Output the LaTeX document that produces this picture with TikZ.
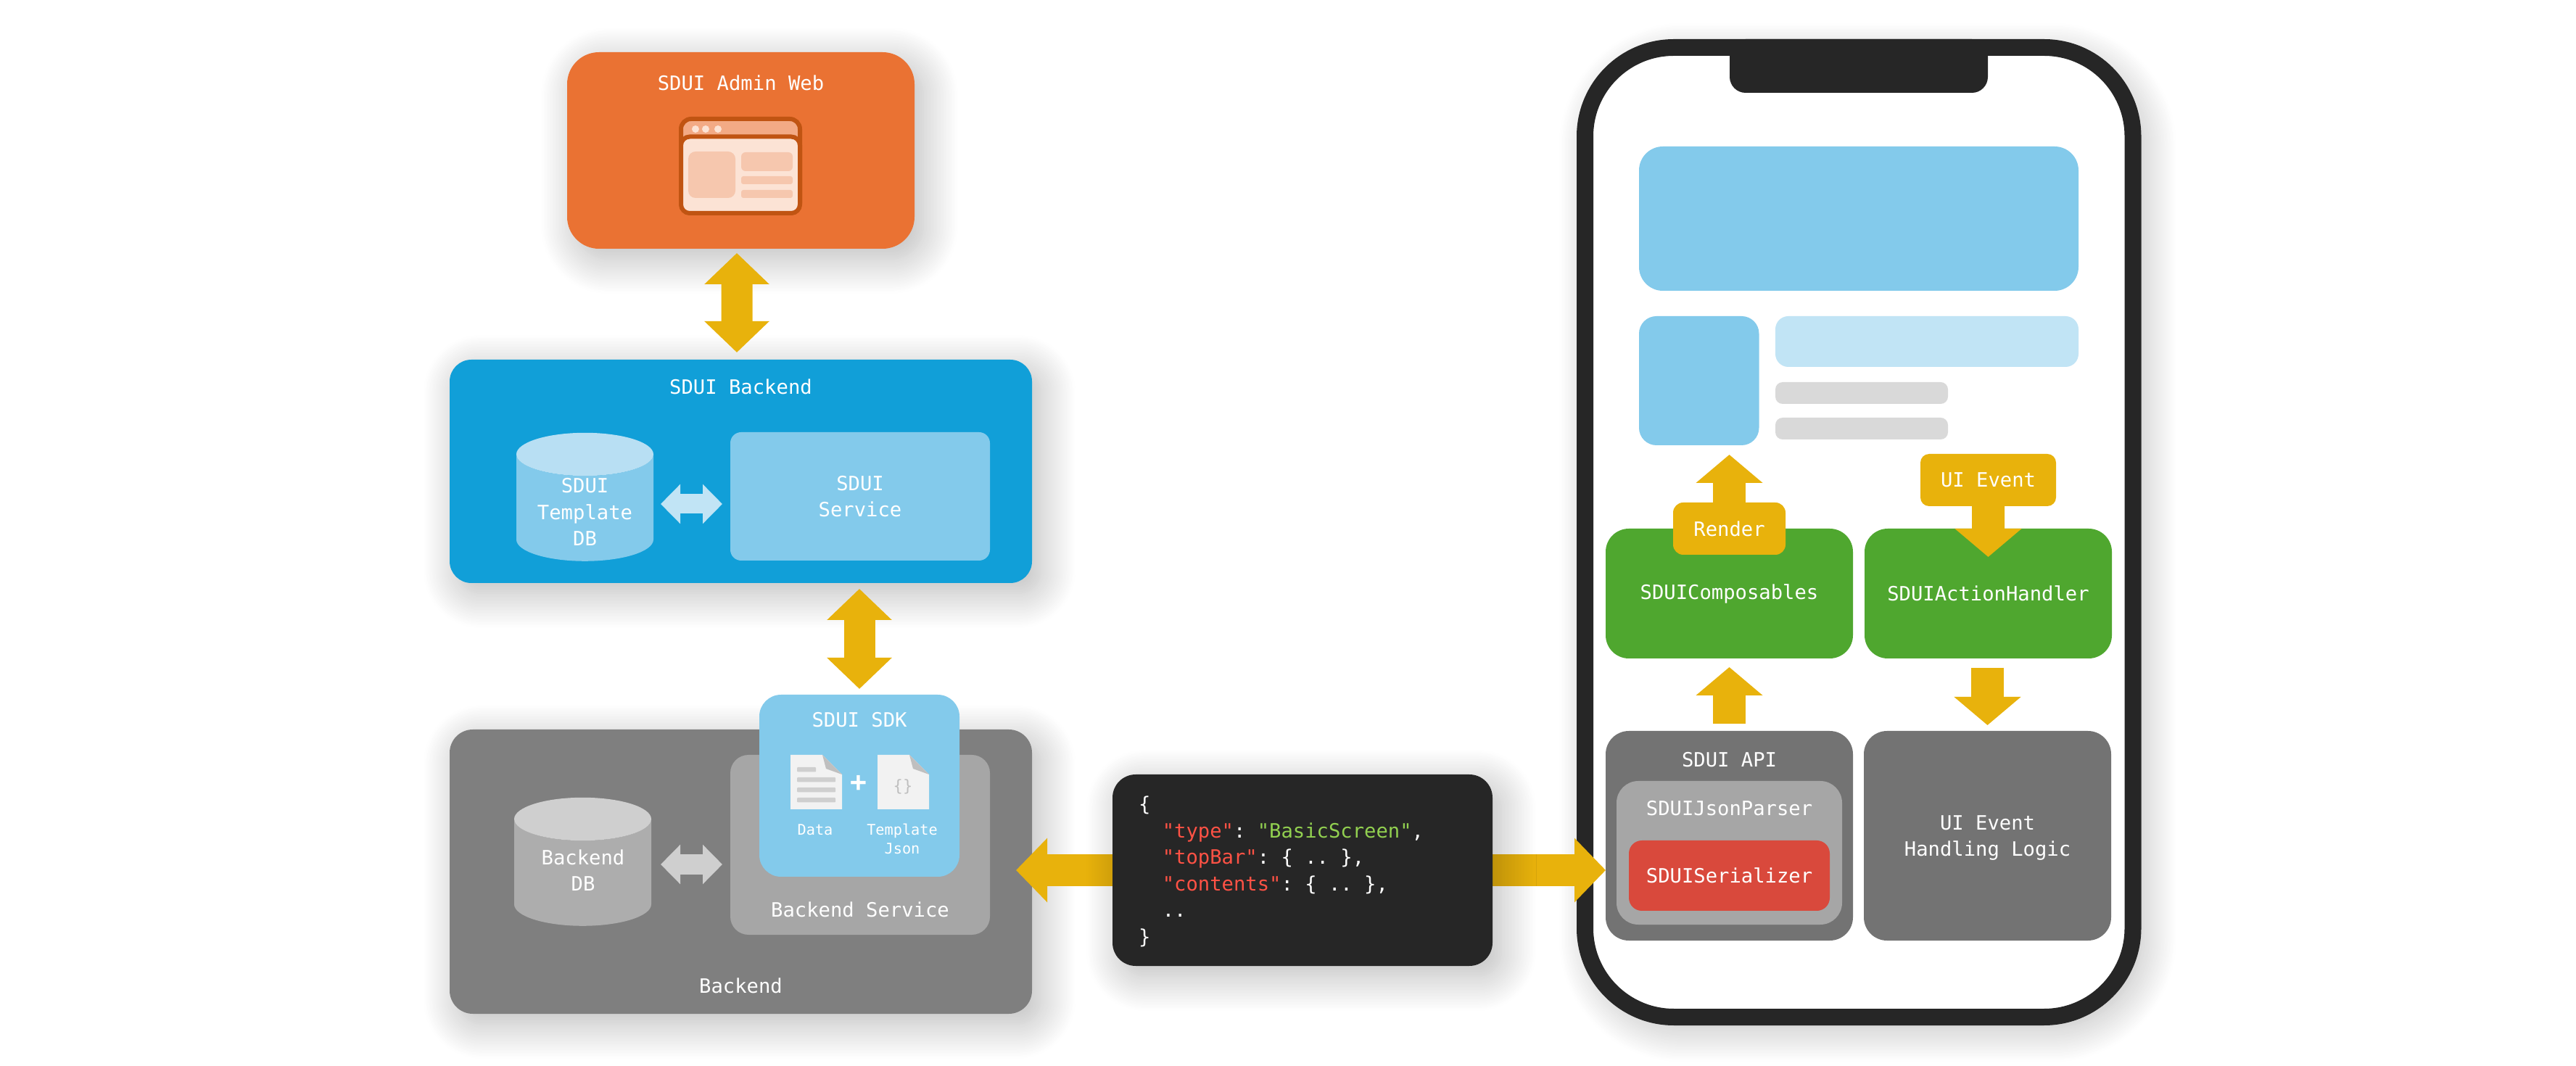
\documentclass[tikz,border=0pt]{standalone}
\usepackage{fontspec}
\setmainfont{DejaVu Sans Mono}
\setmonofont{DejaVu Sans Mono}
\usepackage{xcolor}
\usepackage{tikz}
\usetikzlibrary{shapes.geometric,arrows.meta,positioning,calc,shadows.blur}
\definecolor{arrowyellow}{HTML}{E8B20C}
\definecolor{adminorange}{HTML}{EA7233}
\definecolor{sduiblue}{HTML}{119FD8}
\definecolor{skyblue}{HTML}{83CAEB}
\definecolor{paleblue}{HTML}{C1E4F5}
\definecolor{topblue}{HTML}{B8DFF3}
\definecolor{backgray}{HTML}{7F7F7F}
\definecolor{midgray}{HTML}{A6A6A6}
\definecolor{dbgray}{HTML}{ADADAD}
\definecolor{lightgray}{HTML}{CFCFCF}
\definecolor{apigray}{HTML}{737373}
\definecolor{linegray}{HTML}{D9D9D9}
\definecolor{phoneblack}{HTML}{262626}
\definecolor{okgreen}{HTML}{4FA72F}
\definecolor{errred}{HTML}{D9493C}
\definecolor{keyred}{HTML}{FF5245}
\definecolor{strgreen}{HTML}{92D050}
\definecolor{iconrim}{HTML}{C05412}
\definecolor{icontitle}{HTML}{F3AA85}
\definecolor{iconbody}{HTML}{FCE3D5}
\definecolor{iconpanel}{HTML}{F6C7AE}
\pgfdeclarelayer{top}
\pgfsetlayers{main,top}

\begin{document}
\begin{tikzpicture}[
  every node/.style={outer sep=0pt,inner sep=0pt,text=white,font=\ttfamily\fontsize{7.74}{10.3}\selectfont,align=center},
  softshadow/.style={blur shadow={shadow xshift=0.12cm,shadow yshift=-0.14cm,shadow blur radius=0.48cm,shadow blur steps=24,shadow opacity=28}},
  box/.style={rectangle,rounded corners=0.32cm},
  corner/.style={box,anchor=north west},
  small/.style={font=\ttfamily\fontsize{5.76}{7.6}\selectfont},
  database/.style={cylinder,shape border rotate=90,aspect=0.5185,minimum width=1.89cm,minimum height=1.77cm,cylinder uses custom fill},
  fat/.style={draw=arrowyellow,line width=0.43cm,{Triangle[length=0.43cm,width=0.87cm]}-{Triangle[length=0.43cm,width=0.87cm]}},
  oneway/.style={draw=arrowyellow,line width=0.44cm,-{Triangle[length=0.43cm,width=0.86cm]}},
  phonearr/.style={draw=arrowyellow,line width=0.45cm,-{Triangle[length=0.39cm,width=0.90cm]}},
  thin/.style={line width=0.27cm,{Triangle[length=0.27cm,width=0.53cm]}-{Triangle[length=0.27cm,width=0.53cm]}}
]
\useasboundingbox (0,0) rectangle (35.52,-14.70);

% admin web
\node[corner,softshadow,fill=adminorange,rounded corners=0.44cm,minimum width=4.79cm,minimum height=2.71cm] (admin) at (7.82,-0.72) {};
\node (admintitle) at ([yshift=-0.42cm]admin.north) {SDUI Admin Web};
\node[corner,draw=iconrim,line width=0.06cm,fill=icontitle,rounded corners=0.14cm,minimum width=1.64cm,minimum height=1.30cm] (winframe) at (9.39,-1.64) {};
\node[corner,draw=iconrim,line width=0.06cm,fill=iconbody,rounded corners=0.12cm,minimum width=1.64cm,minimum height=1.055cm] (winbody) at (9.39,-1.885) {};
\foreach \dotx in {9.59,9.73,9.90} { \fill[iconbody] (\dotx,-1.78) circle (0.05); }
\node[corner,fill=iconpanel,rounded corners=0.10cm,minimum width=0.65cm,minimum height=0.64cm] (winleft) at (9.49,-2.09) {};
\node[corner,fill=iconpanel,rounded corners=0.06cm,minimum width=0.71cm,minimum height=0.26cm] (winhead) at (10.22,-2.10) {};
\node[corner,fill=iconpanel,rounded corners=0.03cm,minimum width=0.71cm,minimum height=0.11cm,below=0.07cm of winhead.south west,anchor=north west] (winbar) {};
\node[corner,fill=iconpanel,rounded corners=0.03cm,minimum width=0.71cm,minimum height=0.11cm,below=0.08cm of winbar.south west,anchor=north west] (winbarb) {};

% sdui backend
\node[corner,softshadow,fill=sduiblue,rounded corners=0.30cm,minimum width=8.03cm,minimum height=3.08cm] (sdui) at (6.20,-4.96) {};
\node (sduititle) at ([yshift=-0.37cm]sdui.north) {SDUI Backend};
\node[database,cylinder end fill=topblue,cylinder body fill=skyblue] (tdb) at (8.065,-7.005) {\phantom{Backend}};
\node (tdblabel) at (8.065,-7.06) {SDUI\\Template\\DB};
\node[corner,fill=skyblue,rounded corners=0.15cm,minimum width=3.58cm,minimum height=1.77cm] (tservice) at (10.07,-5.96) {SDUI\\Service};

% backend
\node[corner,softshadow,fill=backgray,rounded corners=0.32cm,minimum width=8.03cm,minimum height=3.92cm] (backend) at (6.20,-10.06) {};
\node (backendtitle) at ([yshift=0.39cm]backend.south) {Backend};
\node[database,cylinder end fill=lightgray,cylinder body fill=dbgray] (bdb) at (8.035,-12.035) {\phantom{Backend}};
\node (bdblabel) at (8.04,-12.00) {Backend\\DB};
\node[corner,fill=midgray,rounded corners=0.25cm,minimum width=3.58cm,minimum height=2.48cm] (bservice) at (10.07,-10.41) {};
\node (bservicetitle) at ([yshift=0.35cm]bservice.south) {Backend Service};
\node[corner,fill=skyblue,rounded corners=0.30cm,minimum width=2.76cm,minimum height=2.51cm] (sdk) at (10.47,-9.58) {};
\node (sdktitle) at ([yshift=-0.35cm]sdk.north) {SDUI SDK};

% documents inside the sdk
\foreach \docx in {10.90,12.10} {
  \begin{scope}[shift={(\docx,-10.41)}]
    \fill[black!5] (0,0) -- (0.44,0) -- (0.71,-0.27) -- (0.71,-0.75) -- (0,-0.75) -- cycle;
    \fill[black!25] (0.44,0) -- (0.71,-0.27) -- (0.49,-0.19) -- cycle;
  \end{scope}
}
\foreach \liney/\linew in {-10.58/0.26,-10.72/0.53,-10.86/0.53,-11.00/0.53} {
  \fill[lightgray,rounded corners=0.01cm] (10.99,\liney) rectangle ++(\linew,-0.065);
}
\node[small] (datalabel) at (11.24,-11.44) {Data};
\node[small] (templatelabel) at (12.44,-11.57) {Template\\Json};
\node[text=black!25,font=\ttfamily\fontsize{6.3}{8}\selectfont] (braces) at (12.45,-10.85) {\{\}};
\node[font=\ttfamily\bfseries\fontsize{10.8}{12}\selectfont] (plus) at (11.84,-10.80) {+};

% phone
\node[corner,softshadow,draw=phoneblack,line width=0.23cm,fill=white,rounded corners=1.225cm,minimum width=7.555cm,minimum height=13.37cm] (phone) at (21.855,-0.655) {};
\node[corner,fill=phoneblack,rounded corners=0.22cm,minimum width=3.56cm,minimum height=0.74cm] (notch) at (23.85,-0.54) {};
\node[corner,fill=skyblue,rounded corners=0.33cm,minimum width=6.06cm,minimum height=1.99cm] (hero) at (22.60,-2.02) {};
\node[corner,fill=skyblue,rounded corners=0.24cm,minimum width=1.655cm,minimum height=1.78cm,below=0.35cm of hero.south west,anchor=north west] (thumb) {};
\node[corner,fill=paleblue,rounded corners=0.18cm,minimum width=4.18cm,minimum height=0.70cm,right=0.225cm of thumb.north east,anchor=north west] (titlebar) {};
\node[corner,fill=linegray,rounded corners=0.10cm,minimum width=2.38cm,minimum height=0.30cm,below=0.21cm of titlebar.south west,anchor=north west] (lineone) {};
\node[corner,fill=linegray,rounded corners=0.10cm,minimum width=2.38cm,minimum height=0.30cm,below=0.19cm of lineone.south west,anchor=north west] (linetwo) {};

\node[corner,fill=okgreen,minimum width=3.41cm,minimum height=1.79cm] (composables) at (22.14,-7.29) {SDUIComposables};
\node[corner,fill=okgreen,minimum width=3.41cm,minimum height=1.79cm,right=0.16cm of composables.north east,anchor=north west] (handler) {SDUIActionHandler};
\draw[phonearr] (composables.north) -- (composables.north |- thumb.south) [shorten >=0.13cm];
\node[corner,fill=arrowyellow,rounded corners=0.14cm,minimum width=1.55cm,minimum height=0.72cm] (render) at (23.07,-6.93) {Render};
\node[corner,fill=arrowyellow,rounded corners=0.12cm,minimum width=1.87cm,minimum height=0.72cm] (uievent) at (26.48,-6.26) {UI Event};
\draw[phonearr,shorten >=-0.39cm] (uievent.south) -- (handler.north);

\node[corner,fill=apigray,minimum width=3.41cm,minimum height=2.89cm] (api) at (22.14,-10.08) {};
\node (apititle) at ([yshift=-0.40cm]api.north) {SDUI API};
\node[corner,fill=midgray,rounded corners=0.30cm,minimum width=3.11cm,minimum height=1.98cm] (parser) at (22.29,-10.77) {};
\node (parsertitle) at ([yshift=-0.375cm]parser.north) {SDUIJsonParser};
\node[corner,fill=errred,rounded corners=0.18cm,minimum width=2.77cm,minimum height=0.97cm] (serializer) at (22.46,-11.59) {SDUISerializer};
\node[corner,fill=apigray,text depth=0pt,minimum width=3.41cm,minimum height=2.89cm] (logic) at (25.70,-10.08) {UI Event\\Handling Logic};
\draw[phonearr,shorten <=0.10cm,shorten >=0.12cm] (api.north) -- (composables.south);
\draw[phonearr,shorten <=0.13cm,shorten >=0.08cm] (logic.north |- handler.south) -- (logic.north);

% block arrows on the left
\draw[fat,shorten <=0.06cm,shorten >=0.10cm] ([xshift=-0.055cm]admin.south) -- ([xshift=-0.055cm]sdui.north);
\draw[fat,shorten <=0.08cm,shorten >=0.08cm] (sdk.north |- sdui.south) -- (sdk.north);
\draw[thin,draw=paleblue,shorten <=0.10cm,shorten >=0.11cm] ([yshift=-0.105cm]tservice.west -| tdb.east) -- ([yshift=-0.105cm]tservice.west);
\draw[thin,draw=lightgray,shorten <=0.13cm,shorten >=0.11cm] ([yshift=-0.27cm]bservice.west -| bdb.east) -- ([yshift=-0.27cm]bservice.west);

% json payload
\begin{pgfonlayer}{top}
\node[corner,softshadow,fill=phoneblack,rounded corners=0.32cm,minimum width=5.24cm,minimum height=2.64cm] (json) at (15.34,-10.68) {};
\node[anchor=west,align=left,right=0.36cm of json.west,yshift=-0.02cm,font=\ttfamily\fontsize{7.74}{10.4}\selectfont] (payload) {\{\\
~~\textcolor{keyred}{"type"}: \textcolor{strgreen}{"BasicScreen"},\\
~~\textcolor{keyred}{"topBar"}: \{ .. \},\\
~~\textcolor{keyred}{"contents"}: \{ .. \},\\
~~..\\
\}};
\end{pgfonlayer}
\draw[oneway,shorten >=-0.22cm] (json.west) -- (json.west -| backend.east);
\draw[oneway] (json.east) -- (json.east -| api.west);
\end{tikzpicture}
\end{document}
